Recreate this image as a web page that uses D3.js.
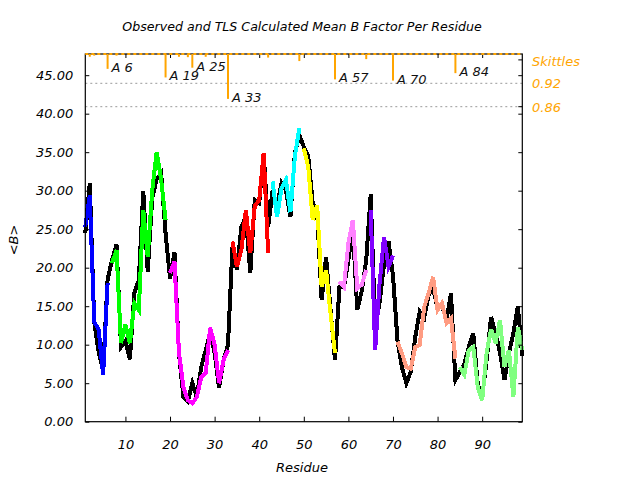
<!DOCTYPE html>
<html>
<head>
<meta charset="utf-8">
<script src="https://cdn.jsdelivr.net/npm/d3@7"></script>
<style>
  html, body { margin: 0; padding: 0; background: #fff; }
  svg { display: block; }
  text { font-family: "DejaVu Sans", sans-serif; font-style: italic; }
</style>
</head>
<body>
<script>
// ---------------- data ----------------
const title = "Observed and TLS Calculated Mean B Factor Per Residue";
const xLabel = "Residue";
const yLabel = "<B>";
const xTicks = [10, 20, 30, 40, 50, 60, 70, 80, 90];
const yTicks = [0, 5, 10, 15, 20, 25, 30, 35, 40, 45];

// observed mean B, residues 1..99
const observed = [
  24.5, 31, 13, 9, 6.7, 18.5, 21, 23, 9.7, 10.5,
  8.1, 16.7, 18.4, 30, 19.5, 29, 31.5, 32.3, 24.5, 18.6,
  22, 8.9, 3.2, 2.6, 5, 3.2, 7.1, 9.3, 11.5, 8.9,
  4.4, 8, 10, 22.7, 19.7, 25.3, 26.6, 19.3, 28.8, 28.4,
  34.9, 25.3, 30, 28, 31, 30, 26.6, 34.9, 37.2, 35.7,
  34.5, 28.4, 27, 15.8, 21.4, 14.5, 8, 17.5, 17.5, 21,
  25, 14.5, 17, 21, 29.5, 12.3, 15.5, 20.5, 23.4, 19,
  10.6, 7.1, 5, 6.5, 11, 14.3, 13.5, 16.5, 17.3, 14.7,
  15, 13.2, 16.7, 5.4, 6.5, 7.5, 9.7, 11.5, 5, 3.1,
  8, 13.6, 11.5, 9, 5.4, 8.9, 11.5, 15, 8.5
];

// TLS calculated mean B per group (first residue, values)
const groupStart = [1, 7, 20, 34, 43, 50, 58, 65, 71, 85];
const groupColor = ["#0000ff", "#00ff00", "#ff00ff", "#ff0000", "#00ffff",
                    "#ffff00", "#ff80ff", "#8000ff", "#ff9c82", "#80ff80"];
const g1 = [25.3, 29.4, 13, 11.9, 6.1, 18];
const g2 = [20.6, 22.3, 10.2, 12.6, 10.2, 15.4, 14.5, 27.5, 21.4, 30, 35, 31.5, 26.2];
const g3 = [19.3, 20.8, 9, 4.5, 2.8, 2.4, 3.2, 5.8, 6.3, 12.2, 10, 5, 8, 9.3];
const g4 = [23.4, 20.1, 22.3, 27.5, 21.9, 28, 28.8, 34.9, 21.9];
const g5 = [31.2, 26.6, 30.3, 31.4, 27.2, 34.5, 38.1];
const g6 = [35.5, 33.1, 26.2, 28.1, 17.5, 19.7, 14, 8.9];
const g7 = [18.2, 17.5, 23.2, 26.2, 17.3, 17.8, 19.7];
const g8 = [27.5, 9.3, 18, 24, 20.1, 21.6];
const g9 = [10.4, 8.9, 7.1, 6.9, 9.7, 10, 14.9, 16.7, 18.8, 14.5, 15.4, 12.8, 13.4, 8.2];
const g10 = [7.1, 6.1, 9.3, 9.7, 4.5, 2.8, 9, 12, 10.2, 13.2, 7.1, 9.3, 3.2, 12.3, 9.3];
const groupValues = [g1, g2, g3, g4, g5, g6, g7, g8, g9, g10];

// Skittles (per-residue correlation, shown as bars hanging from the top)
const skRes   = [2, 3, 6, 8, 19, 22, 24, 25, 28, 33, 42, 49, 57, 64, 70, 84];
const skVal   = [0.988, 0.991, 0.957, 0.991, 0.935, 0.988, 0.987, 0.960, 0.988, 0.880,
                 0.986, 0.977, 0.930, 0.982, 0.927, 0.946];
const skLabel = ["", "", "A 6", "", "A 19", "", "", "A 25", "", "A 33",
                 "", "", "A 57", "", "A 70", "A 84"];
const skTitle = "Skittles";
const skTicks = [0.92, 0.86];

// ---------------- layout ----------------
const W = 640, H = 480;
const L = 85.3, R = 522.3, T = 54, B = 421.7;
const orange = "#ffa500";

const svg = d3.select("body").append("svg").attr("width", W).attr("height", H);

const x = d3.scaleLinear().domain([1, 99]).range([L, R]);
const y = d3.scaleLinear().domain([0, 47.75]).range([B, T]);
const sk = d3.scaleLinear().domain([0.86, 0.92]).range([T + 52.7, T + 29.3]);

// gray dotted reference lines for skittles scale
svg.selectAll("line.skref").data(skTicks).enter().append("line")
  .attr("x1", L).attr("x2", R)
  .attr("y1", d => sk(d)).attr("y2", d => sk(d))
  .attr("stroke", "#999").attr("stroke-width", 1).attr("stroke-dasharray", "2,3");

// data lines
const line = d3.line().x(d => x(d[0])).y(d => y(d[1]));
const obsPts = observed.map((v, i) => [i + 1, v]);
svg.append("path").attr("d", line(obsPts))
  .attr("fill", "none").attr("stroke", "#000").attr("stroke-width", 4)
  .attr("stroke-linejoin", "miter").attr("shape-rendering", "crispEdges");

groupValues.forEach((vals, gi) => {
  const pts = vals.map((v, i) => [groupStart[gi] + i, v]);
  svg.append("path").attr("d", line(pts))
    .attr("fill", "none").attr("stroke", groupColor[gi]).attr("stroke-width", 4)
    .attr("shape-rendering", "crispEdges");
});

// frame
svg.append("rect").attr("x", L).attr("y", T).attr("width", R - L).attr("height", B - T)
  .attr("fill", "none").attr("stroke", "#000").attr("stroke-width", 1.2);

// left axis
const yAxisL = d3.axisLeft(y).tickValues(yTicks).tickSize(-4).tickPadding(12)
  .tickFormat(d3.format(".2f"));
const gL = svg.append("g").attr("transform", `translate(${L},0)`).call(yAxisL);
// right mirrored ticks
const yAxisR = d3.axisRight(y).tickValues(yTicks).tickSize(-4).tickFormat("");
const gR = svg.append("g").attr("transform", `translate(${R},0)`).call(yAxisR);
svg.selectAll("line.skt").data([0.98, 0.86]).enter().append("line")
  .attr("x1", R - 4).attr("x2", R).attr("y1", d => sk(d)).attr("y2", d => sk(d))
  .attr("stroke", "#000");
// bottom axis
const xAxisB = d3.axisBottom(x).tickValues(xTicks).tickSize(-5).tickPadding(18);
const gB = svg.append("g").attr("transform", `translate(0,${B})`).call(xAxisB);
// top mirrored ticks
const xAxisT = d3.axisTop(x).tickValues(xTicks).tickSize(-4).tickFormat("");
const gT = svg.append("g").attr("transform", `translate(0,${T})`).call(xAxisT);

[gL, gR, gB, gT].forEach(g => {
  g.select(".domain").remove();
  g.selectAll(".tick line").attr("stroke", "#000");
  g.selectAll("text").attr("font-size", 13).attr("fill", "#000")
    .attr("font-family", "DejaVu Sans").attr("font-style", "italic");
});

// skittles: orange dashed top line + bars
svg.append("line").attr("x1", L).attr("x2", R).attr("y1", T).attr("y2", T)
  .attr("stroke", orange).attr("stroke-width", 2).attr("stroke-dasharray", "3,3");
svg.selectAll("line.skbar").data(skRes).enter().append("line")
  .attr("x1", d => x(d)).attr("x2", d => x(d))
  .attr("y1", T).attr("y2", (d, i) => sk(skVal[i]))
  .attr("stroke", orange).attr("stroke-width", 2);
svg.selectAll("text.sklab").data(skRes).enter().append("text")
  .attr("x", d => x(d) + 4)
  .attr("y", (d, i) => sk(skVal[i]) + 3)
  .attr("font-size", 13).attr("fill", "#111")
  .text((d, i) => skLabel[i]);

// skittles legend on right
svg.append("text").attr("x", 532).attr("y", 66).attr("font-size", 13)
  .attr("fill", orange).text(skTitle);
svg.selectAll("text.skticklab").data(skTicks).enter().append("text")
  .attr("x", 532).attr("y", d => sk(d) + 5).attr("font-size", 13)
  .attr("fill", orange).text(d => d.toFixed(2));

// titles
svg.append("text").attr("x", 302).attr("y", 31).attr("text-anchor", "middle")
  .attr("font-size", 12.6).attr("fill", "#000").text(title);
svg.append("text").attr("x", 302).attr("y", 472).attr("text-anchor", "middle")
  .attr("font-size", 13).attr("fill", "#000").text(xLabel);
svg.append("text").attr("transform", "translate(18,240) rotate(-90)")
  .attr("text-anchor", "middle").attr("font-size", 13).attr("fill", "#000").text(yLabel);
</script>
</body>
</html>
